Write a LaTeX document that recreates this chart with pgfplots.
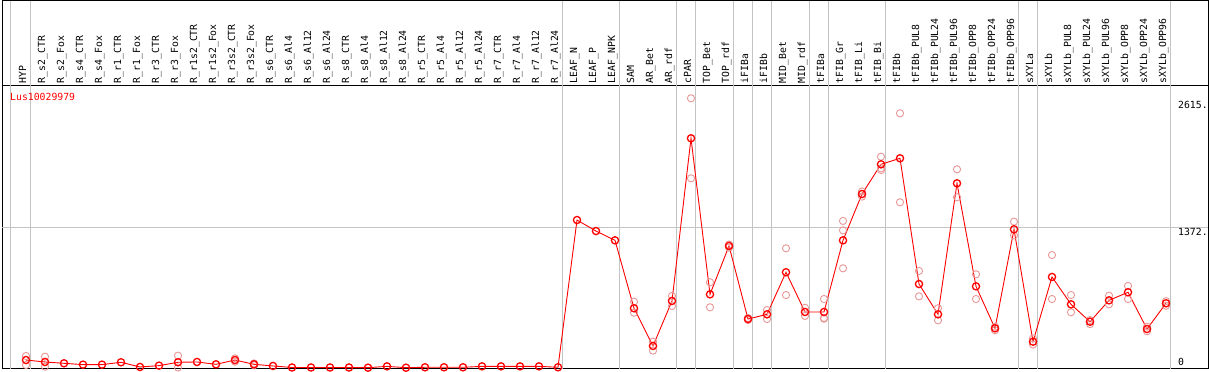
\documentclass[border=0pt]{standalone}
\usepackage{fontspec}
\setmainfont{DejaVu Sans Mono}
\setmonofont{DejaVu Sans Mono}
\usepackage{pgfplots}
\pgfplotsset{compat=1.18}
\definecolor{repcol}{RGB}{232,150,150}
\definecolor{gridcol}{RGB}{196,196,196}
\begin{document}
\begin{tikzpicture}
\begin{axis}[
  x=19pt, y=0.1020408pt,
  xmin=-1.26316, xmax=62.2105,
  ymin=-9.8, ymax=2763.6,
  clip=false,
  axis line style={black, line width=1pt},
  ytick=\empty,
  xtick={0,...,60},
  major tick length=0pt,
  xticklabel pos=upper,
  xticklabel shift=2.5pt,
  xticklabel style={rotate=90, anchor=base west, inner sep=0pt, xshift=0pt, font=\fontsize{9.8}{10}\selectfont},
  xticklabels={HYP,R\_s2\_CTR,R\_s2\_Fox,R\_s4\_CTR,R\_s4\_Fox,R\_r1\_CTR,R\_r1\_Fox,R\_r3\_CTR,R\_r3\_Fox,R\_r1s2\_CTR,R\_r1s2\_Fox,R\_r3s2\_CTR,R\_r3s2\_Fox,R\_s6\_CTR,R\_s6\_Al4,R\_s6\_Al12,R\_s6\_Al24,R\_s8\_CTR,R\_s8\_Al4,R\_s8\_Al12,R\_s8\_Al24,R\_r5\_CTR,R\_r5\_Al4,R\_r5\_Al12,R\_r5\_Al24,R\_r7\_CTR,R\_r7\_Al4,R\_r7\_Al12,R\_r7\_Al24,LEAF\_N,LEAF\_P,LEAF\_NPK,SAM,AR\_Bet,AR\_rdf,cPAR,TOP\_Bet,TOP\_rdf,iFIBa,iFIBb,MID\_Bet,MID\_rdf,tFIBa,tFIB\_Gr,tFIB\_Li,tFIB\_Bi,tFIBb,tFIBb\_PUL8,tFIBb\_PUL24,tFIBb\_PUL96,tFIBb\_OPP8,tFIBb\_OPP24,tFIBb\_OPP96,sXYLa,sXYLb,sXYLb\_PUL8,sXYLb\_PUL24,sXYLb\_PUL96,sXYLb\_OPP8,sXYLb\_OPP24,sXYLb\_OPP96},
]
% bounding box
\path (axis cs:-1.36842,-19.6) rectangle (axis cs:62.2632,3606.4);
% vertical grid lines
\pgfplotsinvokeforeach{-0.8,0.247,28.247,31.247,34.247,35.247,37.247,38.247,39.247,41.247,42.247,45.247,52.247,53.247,60.247}{
  \draw[gridcol, line width=1pt] (axis cs:#1,-9.8) -- (axis cs:#1,3601.5);
}
% horizontal grid line
\draw[gridcol, line width=1pt] (axis cs:-1.26316,1372) -- (axis cs:62.2105,1372);
% frame of label band
\draw[black, line width=1pt] (axis cs:-1.26316,2763.6) -- (axis cs:-1.26316,3601.5) -- (axis cs:62.2105,3601.5) -- (axis cs:62.2105,2763.6);
% y labels
\node[anchor=north west, inner sep=0pt, font=\fontsize{9.8}{10}\selectfont] at (axis cs:60.63,2615) {2615.};
\node[anchor=north west, inner sep=0pt, font=\fontsize{9.8}{10}\selectfont] at (axis cs:60.63,1372) {1372.};
\node[anchor=south west, inner sep=0pt, font=\fontsize{9.8}{10}\selectfont] at (axis cs:60.63,25) {0};
% series label
\node[anchor=west, inner sep=0pt, text=red, font=\fontsize{9.8}{10}\selectfont] at (axis cs:-0.84,2656) {Lus10029979};
% replicates
\addplot[only marks, mark=o, mark size=3.6pt, color=repcol, mark options={line width=0.9pt}] coordinates {
(0,118)(0,29)(1,111)(1,13)(8,121)(8,5)(11,95)(11,62)(12,45)(12,27)
(32,650)(32,542)(33,258)(33,170)(34,706)(34,608)(35,2643)(35,1859)(36,840)(36,595)
(37,1210)(37,1180)(38,490)(38,470)(39,568)(39,480)(40,1173)(40,715)(41,590)(41,510)
(42,676)(42,483)(42,490)(43,1441)(43,1349)(43,977)(44,1730)(44,1680)(45,2071)(45,1957)(45,1940)
(46,2496)(46,1624)(47,951)(47,702)(48,585)(48,467)(49,1947)(49,1673)(50,918)(50,676)
(51,405)(51,370)(52,1434)(52,1300)(53,290)(53,230)(54,1107)(54,676)(55,715)(55,546)
(56,470)(56,430)(57,709)(57,624)(58,804)(58,676)(59,405)(59,360)(60,655)(60,610)
};
% mean
\addplot[red, line width=0.9pt, mark=o, mark size=3.6pt, mark options={line width=1.3pt}] coordinates {
(0,78)(1,59)(2,46)(3,33)(4,33)(5,56)(6,10)(7,23)(8,56)(9,59)
(10,36)(11,78)(12,36)(13,20)(14,5)(15,5)(16,5)(17,5)(18,3)(19,16)
(20,3)(21,7)(22,7)(23,7)(24,16)(25,16)(26,16)(27,16)(28,7)(29,1450)
(30,1342)(31,1251)(32,585)(33,216)(34,657)(35,2251)(36,722)(37,1196)(38,480)(39,526)
(40,938)(41,549)(42,549)(43,1251)(44,1705)(45,1996)(46,2055)(47,823)(48,526)(49,1810)
(50,800)(51,389)(52,1359)(53,258)(54,892)(55,624)(56,454)(57,663)(58,742)(59,382)
(60,634)
};
\end{axis}
\end{tikzpicture}
\end{document}
